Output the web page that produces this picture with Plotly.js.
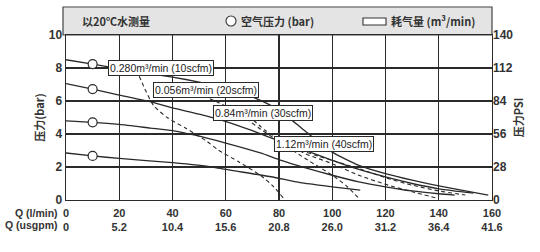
<!DOCTYPE html>
<html>
<head>
<meta charset="utf-8">
<script src="https://cdn.plot.ly/plotly-3.0.1.min.js"></script>
<style>html,body{margin:0;padding:0;background:#fff;}#chart{width:540px;height:252px;}</style>
</head>
<body>
<div id="chart"></div>
<script>
// ---- data ----
const xTicks = [0, 20, 40, 60, 80, 100, 120, 140, 160];
const usgpmLabels = ['0', '5.2', '10.4', '15.6', '20.8', '26.0', '31.2', '36.4', '41.6'];
const barTicks = [0, 2, 4, 6, 8, 10];
const psiTicks = [0, 28, 56, 84, 112, 140];

// solid curves: pump outlet pressure at constant air pressure
const p1x = [0, 10, 20, 30, 40, 50, 60, 70, 80, 90, 100, 110, 120, 130, 140, 150, 158.6];
const p1y = [8.5, 8.24, 7.95, 7.7, 7.45, 7.15, 6.8, 6.25, 5.45, 4.15, 2.9, 2.1, 1.6, 1.2, 0.85, 0.55, 0.3];
const p2x = [0, 10, 20, 31.6, 40, 50, 60.4, 70, 80.5, 90, 100, 110, 120, 130, 140, 153];
const p2y = [7.05, 6.72, 6.36, 5.96, 5.58, 5.2, 4.74, 4.2, 3.55, 3.0, 2.4, 1.85, 1.4, 1.0, 0.68, 0.42];
const p3x = [0, 10, 20, 31.6, 40, 48, 60, 73, 80.5, 90, 100, 110, 120, 130, 140, 146];
const p3y = [4.8, 4.71, 4.58, 4.36, 4.2, 3.94, 3.45, 2.85, 2.42, 1.95, 1.5, 1.1, 0.8, 0.55, 0.38, 0.3];
const p4x = [0, 10, 20, 40, 55, 60, 77, 88, 100, 110.5];
const p4y = [2.85, 2.67, 2.52, 2.26, 2.0, 1.85, 1.41, 1.05, 0.8, 0.6];

// circle markers (air pressure) at Q = 10 l/min
const circX = [10, 10, 10, 10];
const circY = [8.24, 6.72, 4.71, 2.67];

// dashed curves: constant air consumption
const a10x = [27.5, 30, 33, 38, 45, 53, 57, 65, 73, 78, 82];
const a10y = [7.5, 6.6, 5.7, 5.0, 4.35, 3.55, 3.05, 2.3, 1.5, 0.8, 0.05];
const a20x = [51.5, 56, 61, 67, 73, 80, 90, 100, 105, 110];
const a20y = [6.3, 6.0, 5.6, 5.0, 4.3, 3.55, 2.5, 1.5, 0.9, 0.1];
const a30x = [70.3, 75, 80.5, 90, 100, 110, 120, 130, 140];
const a30y = [4.85, 4.2, 3.64, 2.8, 2.2, 1.5, 0.95, 0.5, 0.08];
const a40x = [88, 95, 100, 110, 120, 130, 140, 150];
const a40y = [3.0, 2.65, 2.4, 1.9, 1.35, 0.9, 0.55, 0.3];

const airLabels = ['0.280m³/min (10scfm)', '0.056m³/min (20scfm)', '0.84m³/min (30scfm)', '1.12m³/min (40scfm)'];
const airLabelX = [35.7, 52.6, 73.9, 96.8];
const airLabelY = [8.0, 6.64, 5.27, 3.39];

// ---- drawing ----
const LC = '#2a2a2a';
const FONT = 'Liberation Sans, Arial, sans-serif';
const CJK = 'Noto Sans CJK SC, sans-serif';

const solid = (x, y) => ({x, y, type: 'scatter', mode: 'lines', line: {color: LC, width: 1.3, shape: 'spline', smoothing: 0.6}, hoverinfo: 'skip', showlegend: false});
const dashed = (x, y) => ({x, y, type: 'scatter', mode: 'lines', line: {color: LC, width: 1.1, dash: '4px,3px', shape: 'spline', smoothing: 0.6}, hoverinfo: 'skip', showlegend: false});

const traces = [
  solid(p1x, p1y), solid(p2x, p2y), solid(p3x, p3y), solid(p4x, p4y),
  dashed(a10x, a10y), dashed(a20x, a20y), dashed(a30x, a30y), dashed(a40x, a40y),
  {x: circX, y: circY, type: 'scatter', mode: 'markers', marker: {symbol: 'circle', size: 9, color: '#fff', line: {color: LC, width: 1.2}}, hoverinfo: 'skip', showlegend: false},
  {x: [0, 160], y: [0, 140], yaxis: 'y2', type: 'scatter', mode: 'lines', line: {width: 0, color: 'rgba(0,0,0,0)'}, hoverinfo: 'skip', showlegend: false}
];

const W = 540, H = 252, ML = 66, MR = 48, MT = 35, MB = 52;
const PW = W - ML - MR, PH = H - MT - MB;
const px2x = p => (p - ML) / PW;
const py2y = p => (H - MB - p) / PH;

const annos = airLabels.map((t, i) => ({
  x: airLabelX[i], y: airLabelY[i], xref: 'x', yref: 'y', text: t, showarrow: false,
  font: {family: FONT, size: 10.5, color: '#222'}, bgcolor: '#fff', bordercolor: LC, borderwidth: 1, borderpad: 1
}));

annos.push(
  {x: px2x(80), y: py2y(21), xref: 'paper', yref: 'paper', xanchor: 'left', yanchor: 'middle', text: '<b>以20℃水测量</b>', showarrow: false, font: {family: CJK, size: 11, color: '#333'}},
  {x: px2x(239), y: py2y(21), xref: 'paper', yref: 'paper', xanchor: 'left', yanchor: 'middle', text: '<b>空气压力 (bar)</b>', showarrow: false, font: {family: CJK, size: 11, color: '#333'}},
  {x: px2x(389), y: py2y(21), xref: 'paper', yref: 'paper', xanchor: 'left', yanchor: 'middle', text: '<b>耗气量 (m³/min)</b>', showarrow: false, font: {family: CJK, size: 11, color: '#333'}},
  {x: px2x(60), y: py2y(213), xref: 'paper', yref: 'paper', xanchor: 'right', yanchor: 'middle', text: '<b>Q (l/min)</b>', showarrow: false, font: {family: FONT, size: 10.5, color: '#333'}},
  {x: px2x(60), y: py2y(225), xref: 'paper', yref: 'paper', xanchor: 'right', yanchor: 'middle', text: '<b>Q (usgpm)</b>', showarrow: false, font: {family: FONT, size: 10.5, color: '#333'}}
);

const shapes = [
  {type: 'rect', xref: 'paper', yref: 'paper', x0: px2x(63), x1: px2x(492), y0: py2y(35), y1: py2y(7), fillcolor: '#e4e4e4', line: {color: '#444', width: 1.2}, layer: 'below'},
  {type: 'circle', xref: 'paper', yref: 'paper', x0: px2x(226), x1: px2x(236), y0: py2y(26), y1: py2y(16), fillcolor: '#fff', line: {color: '#333', width: 1.1}},
  {type: 'rect', xref: 'paper', yref: 'paper', x0: px2x(363), x1: px2x(386), y0: py2y(25), y1: py2y(18), fillcolor: '#fff', line: {color: '#333', width: 1.1}}
];

const layout = {
  width: W, height: H,
  margin: {l: ML, r: MR, t: MT, b: MB, pad: 0},
  paper_bgcolor: '#fff', plot_bgcolor: '#fff',
  showlegend: false,
  xaxis: {
    range: [0, 160], tickvals: xTicks,
    ticktext: xTicks.map((v, i) => '<b>' + v + '</b><br><b>' + usgpmLabels[i] + '</b>'),
    showgrid: true, gridcolor: LC, gridwidth: 1.2, zeroline: false,
    showline: true, linecolor: LC, linewidth: 1.4, mirror: true, ticks: '',
    ticklabelstandoff: 2,
    tickfont: {family: FONT, size: 11, color: '#333'}, fixedrange: true
  },
  yaxis: {
    range: [0, 10], tickvals: barTicks, ticktext: barTicks.map(v => '<b>' + v + '</b>'),
    showgrid: true, gridcolor: LC, gridwidth: 1.2, zeroline: false,
    showline: true, linecolor: LC, linewidth: 1.4, mirror: true, ticks: '',
    tickfont: {family: FONT, size: 12, color: '#333'},
    title: {text: '<b>压力(bar)</b>', font: {family: CJK, size: 11, color: '#333'}, standoff: 2}
  },
  yaxis2: {
    range: [0, 140], tickvals: psiTicks, ticktext: psiTicks.map(v => '<b>' + v + '</b>'),
    overlaying: 'y', side: 'right', showgrid: false, zeroline: false, showline: false, ticks: '',
    tickfont: {family: FONT, size: 12, color: '#333'},
    title: {text: '<b>压力PSI</b>', font: {family: CJK, size: 11, color: '#333'}, standoff: 2}
  },
  annotations: annos,
  shapes: shapes
};

Plotly.newPlot('chart', traces, layout, {staticPlot: true, displayModeBar: false});
</script>
</body>
</html>
